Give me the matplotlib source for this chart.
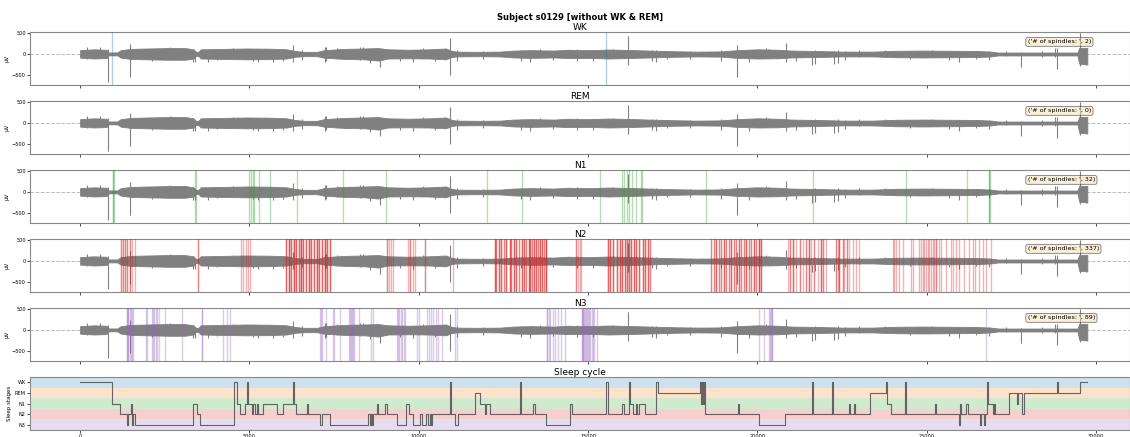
import matplotlib.pyplot as plt
import numpy as np

subject = 's0129'
stages = ['WK', 'REM', 'N1', 'N2', 'N3']
stage_level = {'WK': 4, 'REM': 3, 'N1': 2, 'N2': 1, 'N3': 0}
stage_colors = {'WK': 'tab:blue', 'REM': 'tab:orange', 'N1': 'tab:green',
                'N2': 'tab:red', 'N3': 'tab:purple'}

# EEG amplitude envelope (seconds, upper uV, lower uV)
env_t = [0, 400, 780, 830, 1100, 1200, 1500, 2000, 2600, 3100, 3350, 3420, 3500,
         3560, 4200, 4900, 5600, 6100, 6350, 6600, 7000, 7200, 7800, 8400, 8800,
         9100, 9700, 10300, 10800, 10950, 11100, 11800, 12400, 12800, 13300,
         14000, 14400, 15000, 15600, 16200, 16800, 17500, 18200, 18900, 19400,
         20000, 20600, 21000, 21800, 22500, 23400, 24100, 24900, 25700, 26500,
         26900, 27100, 28000, 29000, 29450, 29500, 29740]
env_hi = [95, 115, 105, 40, 40, 95, 125, 135, 145, 145, 115, 50, 60,
          115, 125, 135, 130, 115, 75, 55, 55, 95, 125, 135, 145,
          115, 105, 115, 135, 85, 60, 55, 60, 85, 95,
          85, 105, 95, 110, 100, 85, 70, 60, 65, 95,
          115, 105, 85, 75, 60, 60, 80, 85, 80, 75,
          60, 38, 38, 38, 38, 150, 150]
env_lo = [-85, -105, -95, -30, -30, -85, -115, -125, -135, -135, -105, -40, -50,
          -105, -115, -125, -120, -105, -65, -50, -50, -85, -115, -125, -155,
          -105, -100, -105, -125, -75, -55, -50, -55, -80, -90,
          -80, -95, -90, -105, -95, -80, -65, -55, -60, -90,
          -105, -100, -80, -70, -55, -55, -75, -80, -75, -70,
          -55, -32, -32, -32, -32, -230, -250]

# artefact spikes and sharper deflections (seconds, low uV, high uV)
spike_t = [826, 1475, 3390, 5690, 6280, 7260, 8850, 10915, 16165, 19410,
           20830, 21620, 22270, 23780, 27790, 28410, 28850, 29530,
           210, 830, 2650, 3770, 5250, 6000, 7240, 8250, 9830, 11130, 13020,
           13270, 14670, 16880, 17000, 18910, 21700, 22390, 25960, 26850, 28790,
           590, 2120, 2750, 3340, 4040, 4520, 5100, 6550, 7580, 8350, 8560,
           9440, 10120, 10470, 11890, 13570, 13950, 15130, 15720, 17320, 18000,
           19760, 20260, 20350, 21150, 22570, 23010, 24490, 25160, 25660, 26460,
           27350]
spike_lo = [-670, -560, -190, -200, -180, -170, -320, -500, -260, -550,
            -190, -250, -230, -70, -300, -60, -350, -280,
            -120, -60, -130, -190, -190, -160, -200, -130, -200, -170, -170,
            -180, -170, -170, -190, -160, -240, -210, -200, -150, -60,
            -90, -170, -120, -200, -150, -110, -170, -140, -110, -120, -210,
            -160, -100, -170, -120, -80, -150, -160, -90, -120, -110,
            -190, -100, -90, -170, -140, -60, -120, -70, -140, -110,
            -40]
spike_hi = [0, 250, 80, 90, 230, 170, 90, 380, 430, 215,
            270, 80, 80, 110, 40, 70, 150, 500,
            170, 130, 160, 100, 110, 120, 160, 180, 110, 90, 90,
            100, 120, 90, 100, 90, 100, 90, 80, 80, 150,
            160, 110, 150, 100, 110, 140, 100, 100, 150, 170, 110,
            100, 140, 100, 80, 120, 80, 90, 130, 70, 70,
            90, 140, 130, 80, 70, 90, 70, 100, 70, 70,
            70]

# detected spindle onsets (seconds)
wk_spindles = [945, 15540]
rem_spindles = []
n1_spindles = [980, 985, 990, 3400, 3420, 4990, 5040, 5090, 5140, 5290, 5605,
               6390, 7770, 9020, 12010, 13040, 15340, 15990, 16070, 16140,
               16220, 16300, 16420, 16560, 16580, 18470, 21650, 24400, 26200,
               26840, 26850, 26860]
n3_spindles = [1380, 1390, 1400, 1420, 1460, 1500, 1530, 1560, 1940, 1960,
               2120, 2150, 2190, 2230, 2280, 2340, 2510, 3000, 3590, 3610,
               4230, 4330, 4430, 7080, 7100, 7140, 7260, 7460, 7500, 7670,
               7940, 7970, 8000, 8030, 8060, 8090, 8240, 8590, 8650,
               9350, 9380, 9420, 9460, 9500, 9550, 9590, 9940, 10000,
               10240, 10300, 10360, 10420, 10500, 10580, 10680, 11060, 11120,
               13780, 13800, 13830, 13880, 13950, 14020, 14100, 14200, 14310,
               14810, 14830, 14850, 14860, 14880, 14910, 14940, 14970, 15000,
               15030, 15060, 15100, 15140, 15180, 15250,
               20060, 20200, 20350, 20360, 20410, 20420, 20440, 26760]

# N2 spindles overlap a lot: onset (seconds) and how many fall there
n2_onset = [1210, 1268, 1328, 1387, 1475, 1534, 1622, 3481,
            4750, 4809, 4897, 4956, 5015,
            6077, 6165, 6225, 6313, 6372, 6460, 6520, 6579, 6667, 6756, 6815,
            6903, 6992, 7051, 7139, 7228, 7287, 7375,
            9066, 9125, 9194, 9224, 9686, 9735, 9834, 9883, 10178, 11013,
            12243, 12292, 12370, 12439, 12508, 12567, 12685, 12734, 12813,
            12882, 12960, 13059, 13108, 13177, 13246, 13295, 13354, 13403,
            13472, 13531, 13590, 13649, 13708, 13757,
            14652, 14700, 14750, 14800,
            15585, 15655, 15733, 15851, 15930, 16009, 16078, 16146, 16205,
            16275, 16343, 16422, 16500, 16618, 16688, 16766, 16836,
            18634, 18703, 18782, 18861, 18929, 19006, 19077, 19154, 19225,
            19293, 19372, 19441, 19520, 19588, 19667, 19736, 19815, 19883,
            19962, 20039, 20110, 20060,
            20895, 20966, 21042, 21143, 21260, 21337, 21438, 21535, 21585,
            21683, 21780, 21880, 21927, 22028, 22323, 22370, 22420, 22517,
            22568, 22635, 22715, 22812, 22913, 22990,
            23993, 24043, 24093, 24190, 24288, 24534, 24583, 24780, 24829,
            24878, 24928, 24977, 25026, 25075, 25124, 25173, 25223, 25272,
            25370, 25419, 25567, 25714, 25763, 25862, 25960, 26108, 26255,
            26353, 26432, 26550, 26648, 26747, 26895]
n2_count = [2, 2, 2, 2, 2, 1, 1, 2,
            1, 1, 1, 1, 1,
            3, 4, 3, 4, 3, 3, 4, 3, 3, 4, 3,
            3, 4, 3, 3, 4, 3, 3,
            2, 1, 1, 1, 1, 2, 1, 1, 2, 1,
            3, 2, 3, 3, 2, 3, 3, 2, 3,
            3, 2, 3, 3, 2, 3, 3, 2, 3,
            3, 2, 3, 3, 2, 4,
            2, 1, 1, 1,
            3, 3, 3, 3, 3, 3, 3, 3, 3,
            3, 3, 3, 3, 3, 3, 3, 2,
            2, 2, 3, 2, 2, 3, 2, 2, 3,
            2, 2, 3, 2, 2, 3, 2, 2, 3,
            2, 2, 3, 2,
            1, 2, 3, 1, 2, 1, 2, 3, 1,
            2, 1, 3, 2, 1, 2, 1, 3, 2,
            1, 2, 1, 1, 1, 1,
            1, 1, 1, 1, 1, 1, 1, 1, 1,
            1, 1, 1, 1, 1, 1, 1, 1, 2,
            1, 1, 1, 1, 1, 1, 1, 1, 1,
            1, 1, 1, 1, 1, 1]
n2_spindles = np.repeat(n2_onset, n2_count)

spindles = {'WK': wk_spindles, 'REM': rem_spindles, 'N1': n1_spindles,
            'N2': n2_spindles, 'N3': n3_spindles}

# hypnogram change points (seconds, stage)
hyp_t = [0, 935, 1180, 1377, 1416, 1495, 1525, 1554, 1622, 3343, 3442, 3540,
         4553, 4641, 4720, 4868, 4936, 4966, 5064, 5113, 5163, 5212, 5261, 5408,
         5802, 5998, 6293, 6322, 6372, 6687, 6716, 7080, 7129, 7375, 8506, 8555,
         8585, 8624, 8653, 8752, 8801, 8998, 9047, 9342, 9637, 9715, 9833,
         10030, 10080, 10227, 10276, 10325, 10374, 10404, 10925, 10964, 11062,
         11161, 11672, 11800, 11948, 11997, 12115, 12990, 13029, 13373, 13423,
         13767, 14455, 14475, 14514, 15536, 15585, 16008, 16048, 16205, 16244,
         16323, 16402, 16441, 16500, 16668, 17012, 17060, 18290, 18320, 18350,
         18380, 18410, 18438, 19420, 19450, 20060, 20827, 21603, 21633, 22204,
         22234, 22695, 22725, 22853, 22883, 23335, 23797, 23827, 23945, 24358,
         24397, 25243, 25273, 25960, 25990, 26019, 26157, 26206, 26570, 26600,
         26698, 26727, 26766, 26796, 26943, 26993, 27022, 27415, 27651, 27681,
         27809, 27878, 28843, 28881, 29520, 29745]
hyp_stage = ['WK', 'N1', 'N2', 'N3', 'N2', 'N1', 'N3', 'N2', 'N3', 'N1', 'N2', 'N3',
             'WK', 'N1', 'N2', 'N1', 'WK', 'N1', 'N2', 'N1', 'N2', 'N1', 'N2', 'N1',
             'N2', 'N1', 'WK', 'N1', 'N2', 'N1', 'N2', 'N3', 'N2', 'N3', 'N2', 'N3',
             'N2', 'N3', 'N2', 'N1', 'N2', 'N1', 'N2', 'N3', 'N1', 'N2', 'N3',
             'N2', 'N3', 'N2', 'N3', 'N2', 'N3', 'N2', 'WK', 'N2', 'N3',
             'N2', 'REM', 'N1', 'N2', 'N1', 'N2', 'WK', 'N2', 'N1', 'N2',
             'N3', 'N2', 'N1', 'N2', 'WK', 'N2', 'N1', 'N2', 'WK', 'N1',
             'N2', 'N1', 'N2', 'N1', 'N2', 'WK', 'REM', 'WK', 'N1', 'WK',
             'N1', 'WK', 'N2', 'N1', 'N2', 'N3', 'N2', 'WK', 'N2', 'WK',
             'N2', 'N1', 'N2', 'N1', 'N2', 'REM', 'WK', 'N1', 'N2', 'WK',
             'N2', 'N1', 'N2', 'N3', 'N1', 'N2', 'N1', 'N2', 'N3', 'N2',
             'N3', 'N2', 'WK', 'N1', 'N2', 'N1', 'N2', 'REM', 'N1', 'REM',
             'N2', 'REM', 'WK', 'REM', 'WK', 'WK']

plt.rcParams['font.family'] = 'DejaVu Sans'
fig = plt.figure(figsize=(11.3, 4.37), dpi=100)
W, H = 1130.0, 437.0
left, width = 30 / W, 1100 / W
tops = [32, 101, 170, 239, 308, 377]
ax_h = 53 / H

fig.text(580 / W, 1 - 17 / H, f'Subject {subject} [without WK & REM]',
         ha='center', va='center', fontsize=6.0, fontweight='bold')

axes = []
for i, top in enumerate(tops):
    ax = fig.add_axes([left, 1 - (top + 53) / H, width, ax_h])
    axes.append(ax)

for ax, st in zip(axes[:5], stages):
    ax.axhline(0, color='#bbbbbb', ls='--', lw=0.7, zorder=0)
    ax.fill_between(env_t, env_lo, env_hi, color='gray', lw=0.6, zorder=2)
    ax.vlines(spike_t, spike_lo, spike_hi, color='gray', lw=0.8, zorder=2)
    for t in spindles[st]:
        ax.axvline(t, color=stage_colors[st], alpha=0.35, lw=1.0, zorder=3)
    ax.set_ylim(-740, 530)
    ax.set_yticks([500, 0, -500])
    ax.set_ylabel('µV', fontsize=4, labelpad=2)
    ax.set_title(st, fontsize=6.5, pad=1.5)
    ax.text(0.907, 0.86, str(('# of spindles: ', len(spindles[st]))),
            transform=ax.transAxes, fontsize=4.6, va='top',
            bbox=dict(boxstyle='round', facecolor='wheat', alpha=0.5, lw=0.6))
    ax.tick_params(labelbottom=False)

hx = axes[5]
for st in stages:
    lv = stage_level[st]
    hx.axhspan(lv - 0.5, lv + 0.5, color=stage_colors[st], alpha=0.22, lw=0)
hyp_y = [stage_level[s] for s in hyp_stage]
hx.step(hyp_t, hyp_y, where='post', color='#444444', alpha=0.8, lw=0.8)
hx.set_ylim(-0.5, 4.5)
hx.set_yticks([stage_level[s] for s in stages])
hx.set_yticklabels(stages)
hx.set_ylabel('Sleep stages', fontsize=4, labelpad=2)
hx.set_title('Sleep cycle', fontsize=6.5, pad=1.5)

for ax in axes:
    ax.set_xlim(-1480, 31000)
    ax.set_xticks(np.arange(0, 30001, 5000))
    ax.tick_params(labelsize=3.6, length=2, width=0.5, pad=1)
    for sp in ax.spines.values():
        sp.set_color('#888888')
        sp.set_linewidth(0.8)

fig.savefig('out.png', dpi=100)
